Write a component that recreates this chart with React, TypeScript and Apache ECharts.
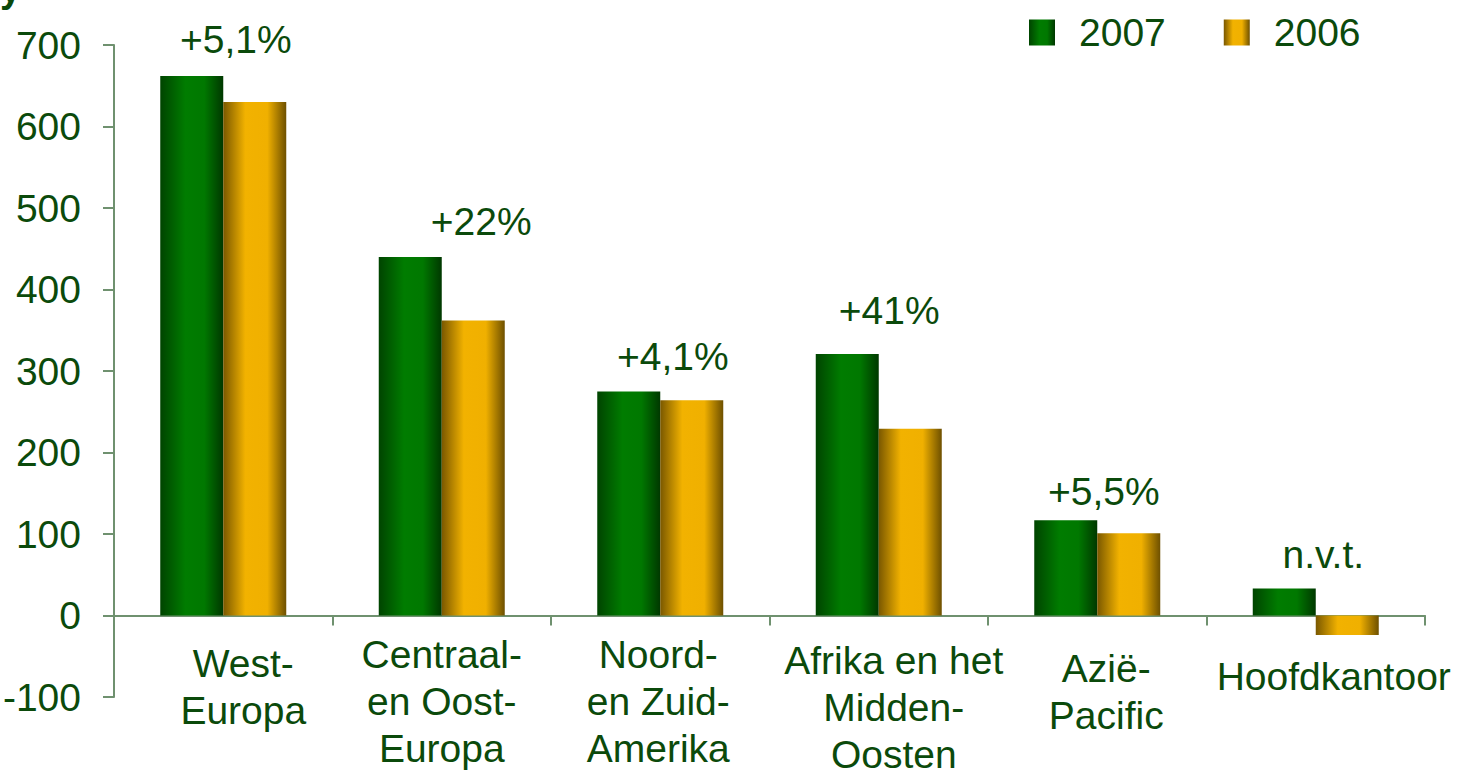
import React, { useEffect, useRef } from "react";
import * as echarts from "echarts";

const categories = [
  "West-\nEuropa",
  "Centraal-\nen Oost-\nEuropa",
  "Noord-\nen Zuid-\nAmerika",
  "Afrika en het\nMidden-\nOosten",
  "Azië-\nPacific",
  "Hoofdkantoor",
];
const values2007 = [662, 440, 275, 321, 117, 33];
const values2006 = [630, 362, 264, 229, 101, -24];
const changeLabels = ["+5,1%", "+22%", "+4,1%", "+41%", "+5,5%", "n.v.t."];
const yTicks = { min: -100, max: 700, interval: 100 };

// styling only: per-label offsets and category label paddings [top, right, bottom, left]
const labelOffsets = [
  [44, -2],
  [71, -1],
  [44, 0],
  [42, -9],
  [38, 6],
  [39, 0],
];
const catPads = [
  [9, 0, 0, 40],
  [0, 0, 0, 0],
  [0, 4, 0, 0],
  [6, 0, 0, 30],
  [14, 0, 0, 18],
  [22, 0, 0, 36],
];

const TEXT = "#0b4a0b";
const AXIS = "#6f916f";
const FONT = "Liberation Sans, Arial, sans-serif";
const FS = 39;

const greenGrad = new echarts.graphic.LinearGradient(0, 0, 1, 0, [
  { offset: 0, color: "#004400" },
  { offset: 0.4, color: "#007c00" },
  { offset: 0.7, color: "#007800" },
  { offset: 1, color: "#003800" },
]);
const goldGrad = new echarts.graphic.LinearGradient(0, 0, 1, 0, [
  { offset: 0, color: "#7a5800" },
  { offset: 0.35, color: "#f2b200" },
  { offset: 0.7, color: "#f0b000" },
  { offset: 1, color: "#6e5000" },
]);

export default function App() {
  const ref = useRef<HTMLDivElement>(null);
  useEffect(() => {
    if (!ref.current) return;
    const chart = echarts.init(ref.current, undefined, { renderer: "svg" });
    chart.setOption({
      animation: false,
      textStyle: { fontFamily: FONT },
      graphic: [
        {
          type: "text",
          left: 0,
          top: -30,
          style: { text: "y", fontSize: 38, fontFamily: FONT, fill: TEXT, fontWeight: "bold" },
        },
      ],
      legend: {
        top: 8,
        left: 1024,
        itemWidth: 26,
        itemHeight: 26,
        itemGap: 58,
        icon: "rect",
        textStyle: { color: TEXT, fontSize: FS, fontFamily: FONT, padding: [0, 0, 0, 19] },
        data: ["2007", "2006"],
      },
      grid: {
        left: 114,
        right: 34,
        top: 45,
        bottom: 74,
        containLabel: false,
        outerBoundsMode: "none",
      },
      xAxis: {
        type: "category",
        data: categories.map((c, i) => ({
          value: c,
          textStyle: { padding: catPads[i] },
        })),
        axisLine: { show: true, onZero: true, lineStyle: { color: AXIS, width: 2 } },
        axisTick: { show: true, length: 10, lineStyle: { color: AXIS, width: 2 } },
        axisLabel: {
          color: TEXT,
          fontSize: FS,
          fontFamily: FONT,
          lineHeight: 47,
          margin: -66,
          interval: 0,
        },
      },
      yAxis: {
        type: "value",
        min: yTicks.min,
        max: yTicks.max,
        interval: yTicks.interval,
        splitLine: { show: false },
        axisLine: { show: true, lineStyle: { color: AXIS, width: 2 } },
        axisTick: { show: true, length: 11, lineStyle: { color: AXIS, width: 2 } },
        axisLabel: { color: TEXT, fontSize: FS, fontFamily: FONT, margin: 33 },
      },
      series: [
        {
          name: "2007",
          type: "bar",
          barWidth: 63,
          barGap: "0%",
          itemStyle: { color: greenGrad },
          data: values2007.map((v, i) => ({
            value: v,
            label: {
              show: true,
              position: "top",
              formatter: changeLabels[i],
              offset: labelOffsets[i],
              distance: 15,
              color: TEXT,
              fontSize: FS,
              fontFamily: FONT,
            },
          })),
        },
        {
          name: "2006",
          type: "bar",
          barWidth: 63,
          barGap: "0%",
          itemStyle: { color: goldGrad },
          data: values2006,
        },
      ],
    });
    return () => chart.dispose();
  }, []);
  return <div ref={ref} style={{ width: 1459, height: 771, position: "absolute", left: 0, top: 0 }} />;
}
